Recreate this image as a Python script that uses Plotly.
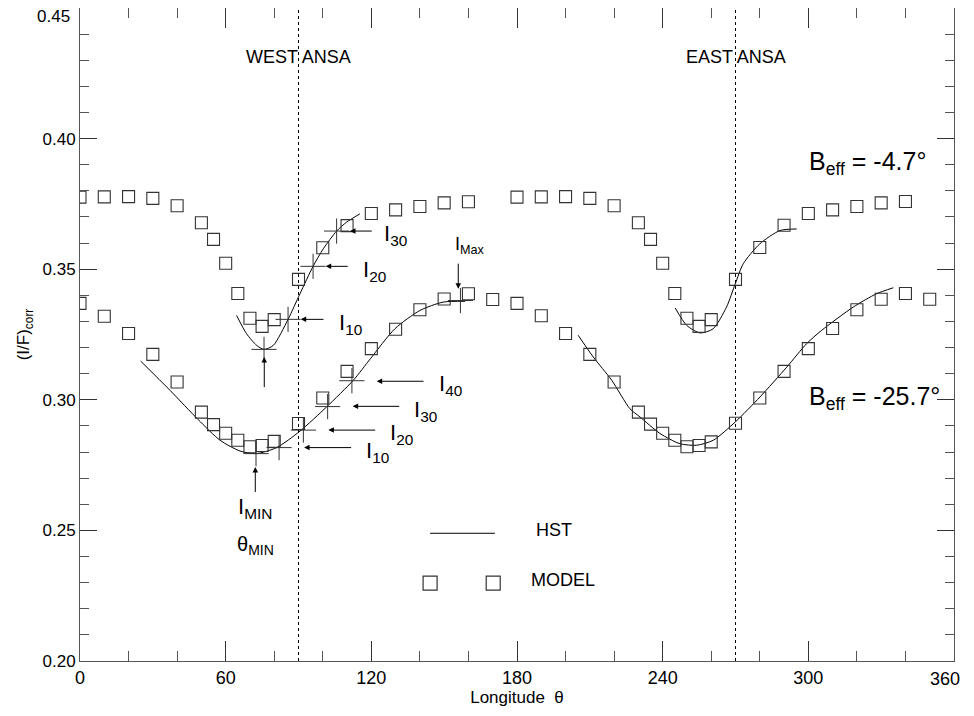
import plotly.graph_objects as go

# ---------------- data ----------------
# MODEL squares, B_eff = -4.7 deg (upper), west and east halves
model_up_w_lon = [0, 10, 20, 30, 40, 50, 55, 60, 65, 70, 75, 80, 90, 100, 110, 120, 130, 140, 150, 160]
model_up_w_val = [0.3776, 0.3777, 0.3778, 0.3771, 0.3743, 0.3678, 0.3614, 0.3523, 0.3407, 0.3312,
                  0.3281, 0.3307, 0.3461, 0.3582, 0.3667, 0.3713, 0.3727, 0.3740, 0.3754, 0.3758]
model_up_e_lon = [180, 190, 200, 210, 220, 230, 235, 240, 245, 250, 255, 260, 270, 280, 290, 300, 310, 320, 330, 340]
model_up_e_val = [0.3776, 0.3777, 0.3778, 0.3771, 0.3743, 0.3678, 0.3614, 0.3523, 0.3407, 0.3312,
                  0.3281, 0.3307, 0.3461, 0.3583, 0.3668, 0.3713, 0.3727, 0.3740, 0.3754, 0.3759]

# MODEL squares, B_eff = -25.7 deg (lower)
model_lo_w_lon = [0, 10, 20, 30, 40, 50, 55, 60, 65, 70, 75, 80, 90, 100, 110, 120, 130, 140, 150, 160, 170]
model_lo_w_val = [0.3369, 0.3320, 0.3254, 0.3174, 0.3068, 0.2953, 0.2905, 0.2872, 0.2845, 0.2820, 0.2825,
                  0.2841, 0.2909, 0.3007, 0.3109, 0.3196, 0.3270, 0.3345, 0.3386, 0.3406, 0.3384]
model_lo_e_lon = [180, 190, 200, 210, 220, 230, 235, 240, 245, 250, 255, 260, 270, 280, 290, 300, 310, 320, 330, 340, 350]
model_lo_e_val = [0.3369, 0.3322, 0.3254, 0.3174, 0.3068, 0.2953, 0.2907, 0.2872, 0.2845, 0.2820, 0.2825,
                  0.2839, 0.2910, 0.3007, 0.3109, 0.3196, 0.3273, 0.3345, 0.3385, 0.3407, 0.3385]

# HST curves
hst_up_w_lon = [64.5, 68.6, 72.8, 75.8, 79.6, 85.7, 90.6, 96.0, 100.2, 105.7, 109.8, 115.3]
hst_up_w_val = [0.3323, 0.3253, 0.3208, 0.3193, 0.3208, 0.3308, 0.3406, 0.3511, 0.3578, 0.3646, 0.3680, 0.3712]
hst_up_e_lon = [245.2, 249.9, 255.4, 260.8, 266.3, 269.9, 273.2, 280.0, 288.3, 295.2]
hst_up_e_val = [0.3351, 0.3285, 0.3256, 0.3272, 0.3355, 0.3444, 0.3521, 0.3597, 0.3648, 0.3654]
hst_lo_w_lon = [25.0, 37.1, 48.7, 57.7, 65.9, 72.5, 81.0, 90.6, 101.6, 112.6, 119.6, 129.7, 140.0, 149.6, 158.6]
hst_lo_w_val = [0.3148, 0.3036, 0.2924, 0.2845, 0.2804, 0.2794, 0.2817, 0.2880, 0.2973, 0.3075, 0.3157,
                0.3272, 0.3342, 0.3374, 0.3377]
hst_lo_e_lon = [205.2, 211.4, 219.0, 226.5, 230.7, 238.9, 247.1, 254.0, 260.8, 269.9, 280.1, 291.1,
                299.3, 305.5, 318.5, 328.1, 335.0]
hst_lo_e_val = [0.3247, 0.3164, 0.3075, 0.2966, 0.2934, 0.2871, 0.2832, 0.2826, 0.2845, 0.2915, 0.3011,
                0.3125, 0.3215, 0.3266, 0.3355, 0.3406, 0.3429]

# '+' markers on the HST curves
plus_up_lon = [75.8, 85.7, 96.0, 105.7]
plus_up_val = [0.3193, 0.3308, 0.3511, 0.3646]
plus_lo_lon = [72.5, 82.0, 92.0, 102.0, 112.0, 156.7]
plus_lo_val = [0.2794, 0.2817, 0.2884, 0.2974, 0.3073, 0.3380]

x_ticks = [0, 60, 120, 180, 240, 300, 360]
x_tick_text = ["0", "60", "120", "180", "240", "300", ""]
y_ticks = [0.20, 0.25, 0.30, 0.35, 0.40, 0.45]
y_tick_text = ["0.20", "0.25", "0.30", "0.35", "0.40", ""]

FONT = "Liberation Sans, Arial, Helvetica, sans-serif"
NARROW = "Liberation Sans Narrow, Arial Narrow, Liberation Sans, sans-serif"

fig = go.Figure()

for lx, ly in [(hst_up_w_lon, hst_up_w_val), (hst_up_e_lon, hst_up_e_val),
               (hst_lo_w_lon, hst_lo_w_val), (hst_lo_e_lon, hst_lo_e_val)]:
    fig.add_trace(go.Scatter(x=lx, y=ly, mode="lines",
                             line=dict(color="black", width=1, shape="spline", smoothing=0.7),
                             showlegend=False, hoverinfo="skip"))

for mx, my in [(model_up_w_lon, model_up_w_val), (model_up_e_lon, model_up_e_val),
               (model_lo_w_lon, model_lo_w_val), (model_lo_e_lon, model_lo_e_val)]:
    fig.add_trace(go.Scatter(x=mx, y=my, mode="markers",
                             marker=dict(symbol="square-open", size=12, color="#333",
                                         line=dict(width=1.1, color="#333")),
                             showlegend=False, hoverinfo="skip"))

for px, py in [(plus_up_lon, plus_up_val), (plus_lo_lon, plus_lo_val)]:
    fig.add_trace(go.Scatter(x=px, y=py, mode="markers",
                             marker=dict(symbol="cross-thin-open", size=18, color="#333",
                                         line=dict(width=1, color="#333")),
                             showlegend=False, hoverinfo="skip"))

annotations = []

def arrow(hx, hy, tx, ty):
    annotations.append(dict(x=hx, y=hy, ax=tx, ay=ty, xref="x", yref="y", axref="x", ayref="y",
                            text="", showarrow=True, arrowhead=2, arrowsize=1.1, arrowwidth=1,
                            arrowcolor="black", standoff=0, startstandoff=0))

def label(x, y, txt, size=20, xanchor="left", yanchor="middle", font=FONT, xref="x", yref="y",
          xshift=0, yshift=0):
    annotations.append(dict(x=x, y=y, xref=xref, yref=yref, text=txt, showarrow=False,
                            xanchor=xanchor, yanchor=yanchor, xshift=xshift, yshift=yshift,
                            font=dict(family=font, size=size, color="black")))

# upper curve arrows
arrow(111.2, 0.3646, 120.8, 0.3646); label(124.3, 0.3630, "I<sub>30</sub>", size=22)
arrow(101.2, 0.3511, 110.9, 0.3511); label(115.6, 0.3495, "I<sub>20</sub>", size=22)
arrow(90.9, 0.3308, 100.9, 0.3308); label(105.8, 0.3292, "I<sub>10</sub>", size=22)
arrow(75.9, 0.3164, 75.9, 0.3043)
# lower curve arrows
arrow(122.2, 0.3071, 142.1, 0.3071); label(146.9, 0.3055, "I<sub>40</sub>", size=22)
arrow(112.3, 0.2975, 132.1, 0.2975); label(136.6, 0.2959, "I<sub>30</sub>", size=22)
arrow(102.3, 0.2884, 122.2, 0.2884); label(126.8, 0.2868, "I<sub>20</sub>", size=22)
arrow(92.3, 0.2817, 112.3, 0.2817); label(116.9, 0.2801, "I<sub>10</sub>", size=22)
arrow(72.2, 0.2743, 72.2, 0.2641); label(72.2, 0.2585, "I<sub>MIN</sub>", size=22, xanchor="center")
label(72.2, 0.2444, "θ<sub>MIN</sub>", size=20, xanchor="center")
arrow(155.8, 0.3425, 155.8, 0.3527); label(153.8, 0.3590, "I<sub>Max</sub>", size=18)

# region titles and B_eff labels
label(90, 0.4314, "WEST ANSA", size=18, xanchor="center")
label(270, 0.4314, "EAST ANSA", size=18, xanchor="center")
label(299.5, 0.3905, "B<sub>eff</sub> = -4.7°", size=25)
label(299.5, 0.3007, "B<sub>eff</sub> = -25.7°", size=25)

# legend imitation
label(187.0, 0.2501, "HST", size=18)
label(185.0, 0.2310, "MODEL", size=18)

# edge tick labels that the reference nudges inside the page
label(0, 0.45, "0.45", size=17, xanchor="right", yanchor="top", font=FONT, xshift=-8, yshift=3)
label(360, 0.20, "360", size=18, xanchor="center", yanchor="top", font=NARROW, xshift=-9, yshift=-6)

shapes = [
    dict(type="line", x0=90, x1=90, y0=0.20, y1=0.45, xref="x", yref="y",
         line=dict(color="black", width=1, dash="dot")),
    dict(type="line", x0=270, x1=270, y0=0.20, y1=0.45, xref="x", yref="y",
         line=dict(color="black", width=1, dash="dot")),
    dict(type="line", x0=144.2, x1=170.9, y0=0.2489, y1=0.2489, xref="x", yref="y",
         line=dict(color="black", width=1)),
]
for sx in [144.2, 170.2]:
    shapes.append(dict(type="rect", xref="x", yref="y", xsizemode="pixel", ysizemode="pixel",
                       xanchor=sx, yanchor=0.2298, x0=-7, x1=7, y0=-7, y1=7,
                       line=dict(color="#333", width=1.2)))

fig.update_layout(
    width=966, height=708,
    margin=dict(l=72, r=20, t=0, b=55),
    paper_bgcolor="white", plot_bgcolor="white",
    annotations=annotations, shapes=shapes,
    showlegend=False,
    xaxis=dict(range=[0, 360], tickvals=x_ticks, ticktext=x_tick_text, ticks="inside", ticklen=20,
               tickwidth=1, automargin=False,
               tickcolor="#333", showline=True, linecolor="#555", linewidth=1, mirror="ticks",
               showgrid=False, zeroline=False,
               minor=dict(dtick=20, ticks="inside", ticklen=10, tickcolor="#555", showgrid=False),
               tickfont=dict(family=NARROW, size=18, color="black"),
               title=dict(text="Longitude  θ", font=dict(family=NARROW, size=17, color="black"),
                          standoff=2)),
    yaxis=dict(range=[0.20, 0.45], tickvals=y_ticks, ticktext=y_tick_text, ticks="inside",
               ticklen=17, tickwidth=1, tickcolor="#333", showline=True, linecolor="#555",
               linewidth=1, mirror="ticks", showgrid=False, zeroline=False, automargin=False,
               minor=dict(dtick=0.01, ticks="inside", ticklen=9, tickcolor="#555", showgrid=False),
               tickfont=dict(family=FONT, size=17, color="black"),
               title=dict(text="(I/F)<sub>corr</sub>", font=dict(family=FONT, size=17, color="black"),
                          standoff=8)),
)

fig.write_html("out.html")
